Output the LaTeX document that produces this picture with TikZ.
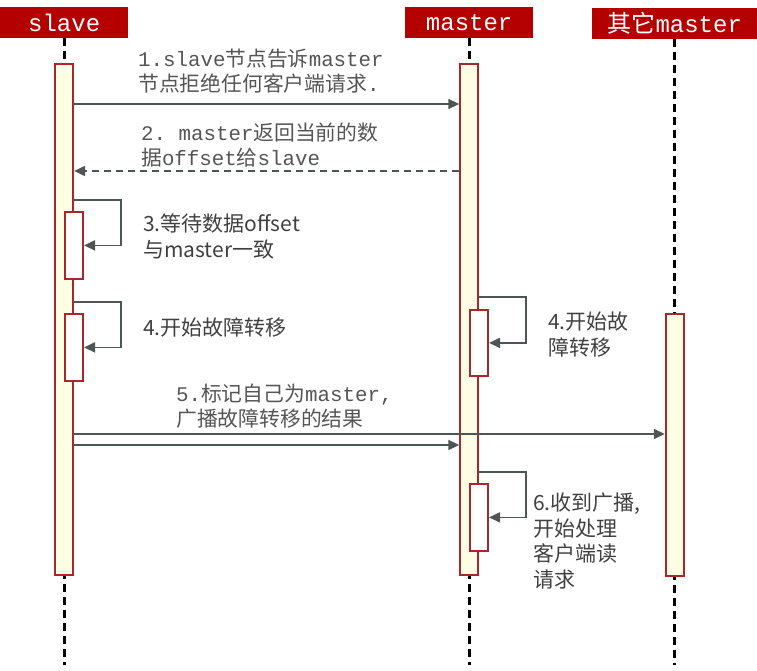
\documentclass[tikz,border=0pt]{standalone}
\usepackage{fontspec}
\setmonofont{Liberation Mono}
\newfontfamily\cjk{Noto Sans CJK SC}
\usetikzlibrary{arrows.meta}
\definecolor{hdrred}{HTML}{B50000}
\definecolor{barline}{HTML}{A8282A}
\definecolor{barfill}{HTML}{FFFFE6}
\definecolor{msggray}{HTML}{4D5555}
\definecolor{monogray}{HTML}{555555}
\definecolor{sansgray}{HTML}{404040}
\newcommand{\zh}[1]{{\cjk #1}}

\begin{document}
\begin{tikzpicture}[x=1pt,y=-1pt,
   head/.style={fill=hdrred,text=white,inner sep=0,minimum height=31pt,
      font=\ttfamily\fontsize{24}{24}\selectfont},
   life/.style={black,line width=2.6pt,dash pattern=on 8pt off 5pt},
   bar/.style={draw=barline,fill=barfill,line width=1.8pt,minimum width=18pt,inner sep=0},
   sub/.style={draw=barline,fill=white,line width=1.8pt,minimum width=18pt,inner sep=0},
   msg/.style={msggray,line width=1.8pt,-{Triangle[length=11pt,width=10pt]}},
   monotxt/.style={text=monogray,align=left,inner sep=0,anchor=base west,
      font=\ttfamily\fontsize{20.8}{25}\selectfont},
   sanstxt/.style={text=sansgray,align=left,inner sep=0,anchor=base west,
      font=\cjk\fontsize{21}{25.5}\selectfont}]
   \useasboundingbox (0,0) rectangle (757,671);
   % lifeline heads
   \node[head,minimum width=128pt,anchor=north west] (hslave) at (0,7) {slave};
   \node[head,minimum width=128pt,anchor=north west] (hmaster) at (405,7) {master};
   \node[head,minimum width=165pt,anchor=north west] (hother) at (592,8) {\zh{其它}master};
   \draw[life] (hslave.south) -- (hslave.south |- 0,665);
   \draw[life] (hmaster.south) -- (hmaster.south |- 0,665);
   \draw[life] (hother.south) -- (hother.south |- 0,665);
   % activation bars
   \node[bar,minimum height=511pt,anchor=north] (bslave) at (hslave.south |- 0,63) {};
   \node[bar,minimum height=511pt,anchor=north] (bmaster) at (hmaster.south |- 0,63) {};
   \node[bar,minimum height=262pt,anchor=north] (bother) at (hother.south |- 0,313) {};
   \node[sub,minimum height=67pt,anchor=north west] (swait) at (bslave.center |- 0,211) {};
   \node[sub,minimum height=67pt,anchor=north west] (sfail) at (bslave.center |- 0,313) {};
   \node[sub,minimum height=66pt,anchor=north west] (mfail) at (bmaster.center |- 0,309) {};
   \node[sub,minimum height=67pt,anchor=north west] (mread) at (bmaster.center |- 0,483) {};
   % messages
   \draw[msg] (bslave.east |- 0,104) -- (bmaster.west |- 0,104);
   \draw[msg,dash pattern=on 7pt off 5pt] (bmaster.west |- 0,171) -- (bslave.east |- 0,171);
   \draw[msg] (bslave.east |- 0,200) -- ++(47,0) |- (swait.east);
   \draw[msg] (bslave.east |- 0,302) -- ++(47,0) |- (sfail.east);
   \draw[msg] (bmaster.east |- 0,297) -- ++(47,0) |- (mfail.east);
   \draw[msg] (bslave.east |- 0,434) -- (bother.west |- 0,434);
   \draw[msg] (bslave.east |- 0,445) -- (bmaster.west |- 0,445);
   \draw[msg] (bmaster.east |- 0,472) -- ++(47,0) |- (mread.east);
   % labels (base = last line)
   \node[monotxt] (t1) at (138,92) {1.slave\zh{节点告诉}master\\\zh{节点拒绝任何客户端请求}.};
   \node[monotxt] (t2) at (141,166) {2. master\zh{返回当前的数}\\\zh{据}offset\zh{给}slave};
   \node[sanstxt] (t3) at (143,257) {3.等待数据offset\\与master一致};
   \node[sanstxt] (t4) at (143,335) {4.开始故障转移};
   \node[sanstxt] (t4m) at (548,355) {4.开始故\\障转移};
   \node[monotxt] (t5) at (176,426) {5.\zh{标记自己为}master,\\\zh{广播故障转移的结果}};
   \node[sanstxt] (t6) at (533,587) {6.收到广播,\\开始处理\\客户端读\\请求};
\end{tikzpicture}
\end{document}
